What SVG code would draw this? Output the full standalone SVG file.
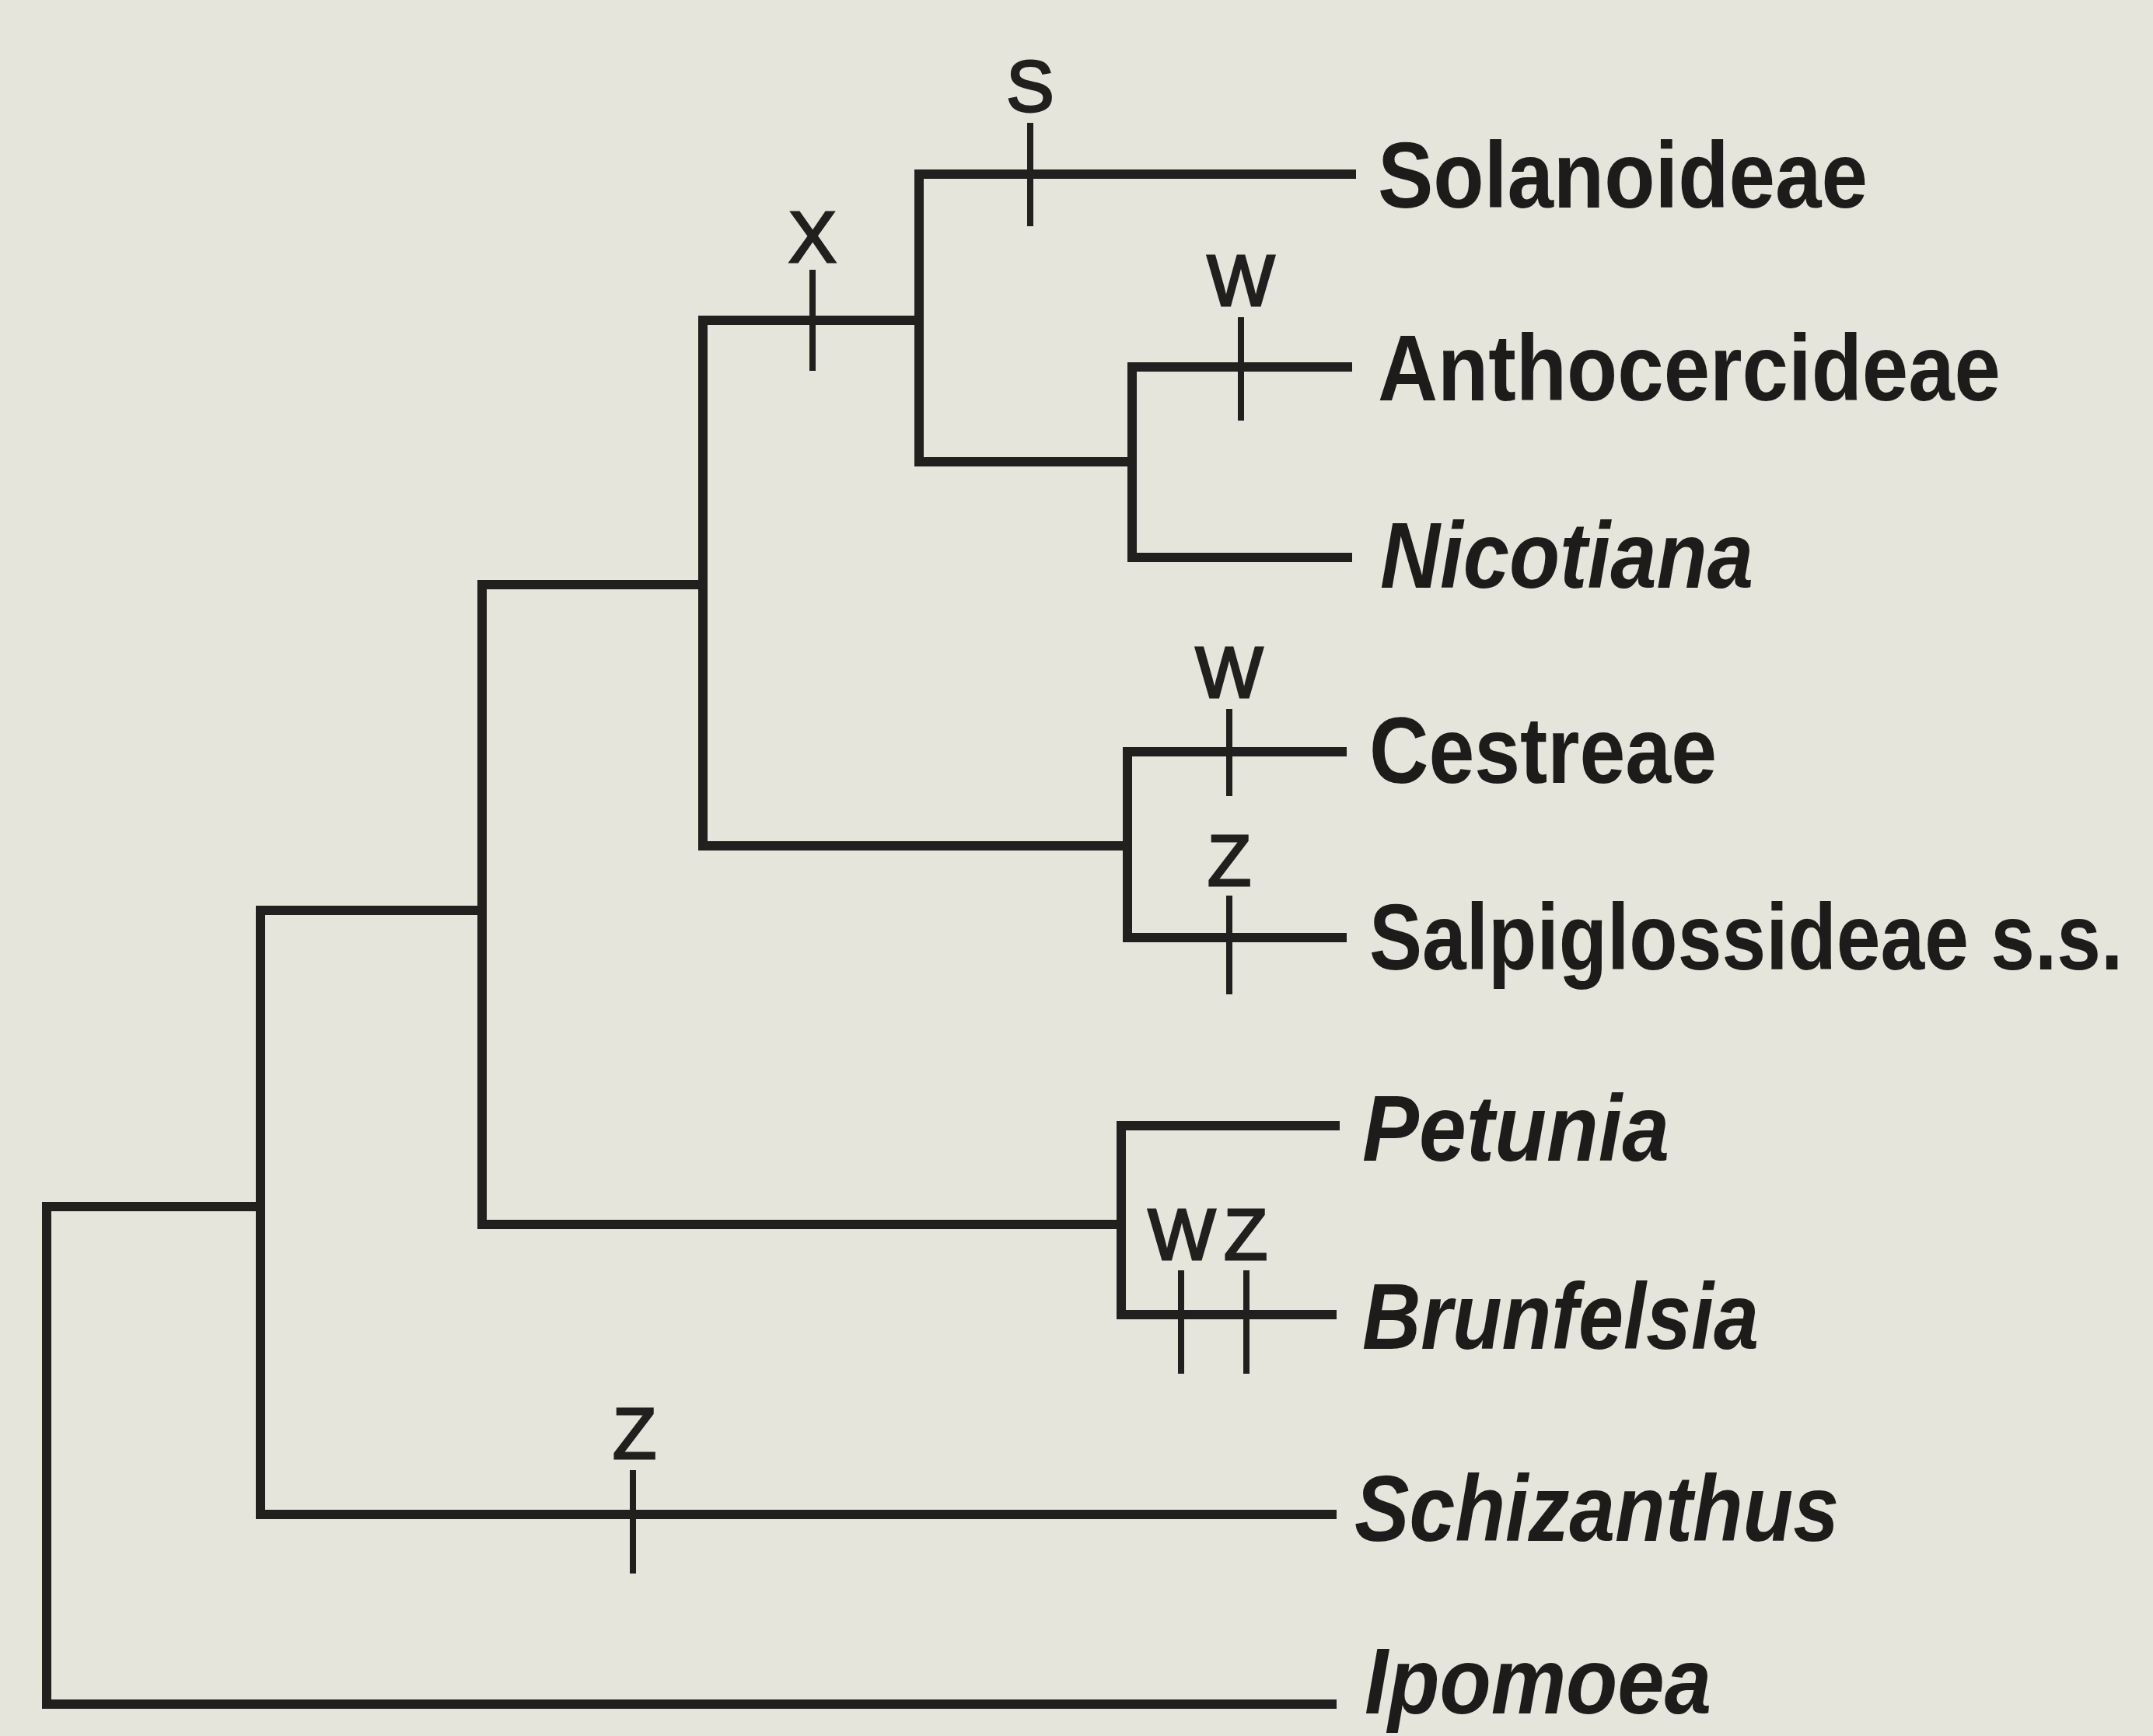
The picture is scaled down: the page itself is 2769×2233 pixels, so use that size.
<svg xmlns="http://www.w3.org/2000/svg" width="2769" height="2233" viewBox="0 0 2769 2233">
<style>
.br{fill:none;stroke:#22201f;stroke-width:12;stroke-linejoin:miter;stroke-linecap:square}
.tk{fill:none;stroke:#22201f;stroke-width:8;stroke-linecap:butt}
.lb{font-family:"Liberation Sans",Arial,sans-serif;font-size:120px;font-weight:bold;fill:#1e1c1b}
.it{font-style:italic}
.mk{font-family:"Liberation Sans",Arial,sans-serif;font-size:92px;fill:#22201f;stroke:#22201f;stroke-width:3;text-anchor:middle}
</style>
<rect width="2769" height="2233" fill="#e5e5db"/>
<g id="connectors">
<path class="br" d="M1713,2192 H60 V1552 H335"/>
<path class="br" d="M1713,1948 H335 V1171 H620"/>
<path class="br" d="M1442,1575 H620 V752 H904"/>
<path class="br" d="M1717,1448 H1442 V1691 H1713"/>
<path class="br" d="M1450,1088 H904 V412 H1182"/>
<path class="br" d="M1726,967 H1450 V1206 H1726"/>
<path class="br" d="M1738,224 H1182 V594 H1456"/>
<path class="br" d="M1733,472 H1456 V717 H1733"/>
</g>
<g id="ticks">
<line class="tk" x1="1325" y1="158" x2="1325" y2="291"/>
<line class="tk" x1="1045" y1="347" x2="1045" y2="477"/>
<line class="tk" x1="1596" y1="408" x2="1596" y2="541"/>
<line class="tk" x1="1581" y1="912" x2="1581" y2="1024"/>
<line class="tk" x1="1581" y1="1152" x2="1581" y2="1279"/>
<line class="tk" x1="1519" y1="1634" x2="1519" y2="1767"/>
<line class="tk" x1="1603" y1="1634" x2="1603" y2="1767"/>
<line class="tk" x1="814" y1="1891" x2="814" y2="2024"/>
</g>
<g id="markers">
<text class="mk" x="1325" y="143">S</text>
<text class="mk" x="1045" y="337">X</text>
<text class="mk" x="1596" y="393">W</text>
<text class="mk" x="1581" y="897">W</text>
<text class="mk" x="1581" y="1139">Z</text>
<text class="mk" x="1520" y="1620">W</text>
<text class="mk" x="1602" y="1620">Z</text>
<text class="mk" x="816" y="1876">Z</text>
</g>
<g id="node-solanoideae"><text class="lb" x="1772" y="267" textLength="630" lengthAdjust="spacingAndGlyphs">Solanoideae</text></g>
<g id="node-anthocercideae"><text class="lb" x="1772" y="515" textLength="801" lengthAdjust="spacingAndGlyphs">Anthocercideae</text></g>
<g id="node-nicotiana"><text class="lb it" x="1775" y="756" textLength="480" lengthAdjust="spacingAndGlyphs">Nicotiana</text></g>
<g id="node-cestreae"><text class="lb" x="1761" y="1007" textLength="447" lengthAdjust="spacingAndGlyphs">Cestreae</text></g>
<g id="node-salpiglossideae" transform="translate(1761,1247) scale(0.85,1)"><text class="lb" x="0" y="0">Salpiglossideae s.s.</text></g>
<g id="node-petunia"><text class="lb it" x="1752" y="1493" textLength="395" lengthAdjust="spacingAndGlyphs">Petunia</text></g>
<g id="node-brunfelsia"><text class="lb it" x="1752" y="1735" textLength="510" lengthAdjust="spacingAndGlyphs">Brunfelsia</text></g>
<g id="node-schizanthus"><text class="lb it" x="1742" y="1982" textLength="623" lengthAdjust="spacingAndGlyphs">Schizanthus</text></g>
<g id="node-ipomoea"><text class="lb it" x="1755" y="2204" textLength="446" lengthAdjust="spacingAndGlyphs">Ipomoea</text></g>
</svg>
